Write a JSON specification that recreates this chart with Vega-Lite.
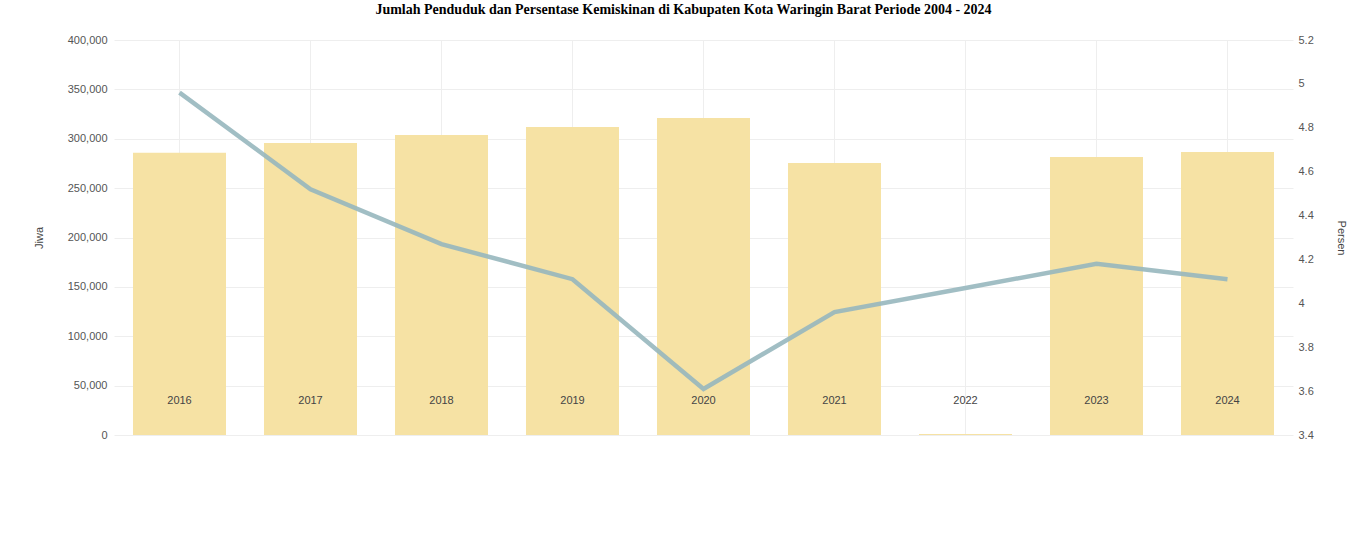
{
  "$schema": "https://vega.github.io/schema/vega-lite/v6.json",
  "width": 1179,
  "height": 395,
  "autosize": {"type": "none"},
  "padding": {"left": 114, "top": 40, "right": 73, "bottom": 112},
  "background": "white",
  "title": {
    "text": "Jumlah Penduduk dan Persentase Kemiskinan di Kabupaten Kota Waringin Barat Periode 2004 - 2024",
    "font": "Liberation Serif",
    "fontSize": 14,
    "fontWeight": "bold",
    "color": "#000000",
    "anchor": "middle",
    "dx": -20,
    "offset": 17
  },
  "data": {
    "values": [
      {"tahun": "2016", "penduduk": 285900, "kemiskinan": 4.96},
      {"tahun": "2017", "penduduk": 295700, "kemiskinan": 4.52},
      {"tahun": "2018", "penduduk": 303800, "kemiskinan": 4.27},
      {"tahun": "2019", "penduduk": 311900, "kemiskinan": 4.11},
      {"tahun": "2020", "penduduk": 321000, "kemiskinan": 3.61},
      {"tahun": "2021", "penduduk": 275400, "kemiskinan": 3.96},
      {"tahun": "2022", "penduduk": 1000, "kemiskinan": 4.07},
      {"tahun": "2023", "penduduk": 281500, "kemiskinan": 4.18},
      {"tahun": "2024", "penduduk": 286600, "kemiskinan": 4.11}
    ]
  },
  "layer": [
    {
      "mark": {"type": "bar", "color": "#f6e2a4"},
      "encoding": {
        "x": {
          "field": "tahun",
          "type": "ordinal",
          "scale": {"paddingInner": 0.29, "paddingOuter": 0.145},
          "axis": {
            "orient": "bottom",
            "title": null,
            "labels": false,
            "ticks": false,
            "domain": false,
            "grid": true,
            "gridColor": "#eeeeee",
            "bandPosition": 0.5
          }
        },
        "y": {
          "field": "penduduk",
          "type": "quantitative",
          "scale": {"domain": [0, 400000]},
          "axis": {
            "title": "Jiwa",
            "orient": "left",
            "values": [0, 50000, 100000, 150000, 200000, 250000, 300000, 350000, 400000],
            "format": ",.0f",
            "ticks": false,
            "domain": false,
            "grid": true,
            "gridColor": "#eeeeee",
            "labelColor": "#555555",
            "labelFont": "Liberation Sans",
            "labelFontSize": 11,
            "labelPadding": 7,
            "titleColor": "#444444",
            "titleFont": "Liberation Sans",
            "titleFontSize": 11,
            "titleFontWeight": "normal",
            "titlePadding": 23
          }
        }
      }
    },
    {
      "mark": {"type": "line", "color": "#97b7be", "strokeWidth": 4.5, "opacity": 0.9},
      "encoding": {
        "x": {
          "field": "tahun",
          "type": "ordinal",
          "axis": {
            "orient": "bottom",
            "title": null,
            "ticks": false,
            "domain": false,
            "grid": false,
            "labelAngle": 0,
            "labelPadding": -41,
            "labelBaseline": "top",
            "labelColor": "#444444",
            "labelFont": "Liberation Sans",
            "labelFontSize": 11,
            "zindex": 1
          }
        },
        "y": {
          "field": "kemiskinan",
          "type": "quantitative",
          "scale": {"domain": [3.4, 5.2], "zero": false},
          "axis": {
            "title": "Persen",
            "orient": "right",
            "values": [3.4, 3.6, 3.8, 4, 4.2, 4.4, 4.6, 4.8, 5, 5.2],
            "format": "~g",
            "ticks": false,
            "domain": false,
            "grid": false,
            "labelColor": "#555555",
            "labelFont": "Liberation Sans",
            "labelFontSize": 11,
            "labelPadding": 5,
            "titleColor": "#444444",
            "titleFont": "Liberation Sans",
            "titleFontSize": 11,
            "titleFontWeight": "normal",
            "titlePadding": 22
          }
        }
      }
    }
  ],
  "resolve": {"scale": {"y": "independent"}, "axis": {"x": "independent"}},
  "config": {"view": {"stroke": null}}
}
